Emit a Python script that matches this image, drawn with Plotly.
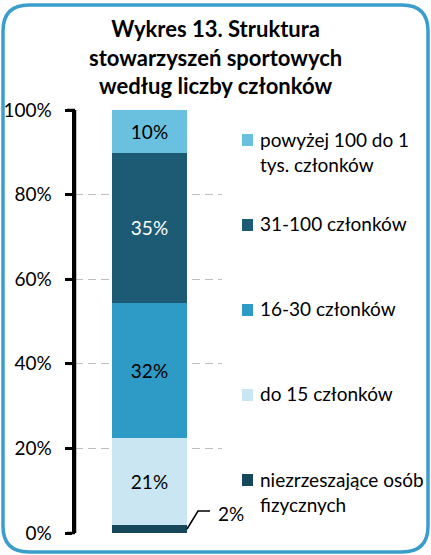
import plotly.graph_objects as go

# ---- data ----
series_names = ["niezrzeszające osób<br>fizycznych", "do 15 członków", "16-30 członków",
                "31-100 członków", "powyżej 100 do 1<br>tys. członków"]
series_values = [1.9, 20.5, 32.0, 35.5, 10.1]
series_labels = ["2%", "21%", "32%", "35%", "10%"]
series_colors = ["#16475A", "#C9E6F2", "#2E9BC6", "#1C5B73", "#6AC0DF"]
label_colors = ["black", "black", "black", "white", "black"]
tick_vals = [0, 20, 40, 60, 80, 100]
tick_text = ["0%", "20%", "40%", "60%", "80%", "100%"]
title_text = "<b>Wykres 13. Struktura<br>stowarzyszeń sportowych<br>według liczby członków</b>"

W, H = 431, 555
L, R, T, B = 75, 209, 110, 22
PW, PH = W - L - R, H - T - B
FONT = "Lato"
FS = 19
Y_RANGE = [0, 100]

def px(x):
    return (x - L) / PW

def py(y):
    return 1 - (y - T) / PH

fig = go.Figure()
for i, (n, v, c) in enumerate(zip(series_names, series_values, series_colors)):
    txt = series_labels[i] if i > 0 else ""
    fig.add_trace(go.Bar(
        x=[0], y=[v], name=n, marker=dict(color=c, line=dict(width=0)),
        width=1.02, text=[txt], textposition="inside", insidetextanchor="middle",
        textfont=dict(color=label_colors[i], size=FS, family=FONT),
        hoverinfo="skip", showlegend=False,
    ))

fig.update_layout(
    barmode="stack",
    width=W, height=H,
    margin=dict(l=L, r=R, t=T, b=B),
    paper_bgcolor="white", plot_bgcolor="white",
    font=dict(family=FONT, size=FS, color="black"),
    xaxis=dict(range=[-1.0136, 0.9864], visible=False, fixedrange=True),
    yaxis=dict(range=Y_RANGE, tickvals=tick_vals, automargin=False,
               ticktext=[t + "\u00a0\u00a0" for t in tick_text],
               showgrid=True, gridcolor="#BFBFBF", griddash="8px,5px", gridwidth=1.2,
               zeroline=False, showline=True, linecolor="black", linewidth=2.5,
               ticks="outside", ticklen=7, tickwidth=2.5, tickcolor="black",
               tickfont=dict(size=FS, family=FONT, color="black"), fixedrange=True),
    uniformtext=dict(mode="show", minsize=8),
)

# axis line and tick marks reinforced (paper refs so they are not clipped)
fig.add_shape(type="line", xref="paper", yref="paper", x0=0, x1=0, y0=0, y1=1,
              line=dict(color="black", width=2.5), layer="above")
for tv in tick_vals:
    fy = (tv - Y_RANGE[0]) / (Y_RANGE[1] - Y_RANGE[0])
    fig.add_shape(type="line", xref="paper", yref="paper", x0=px(67), x1=px(75), y0=fy, y1=fy,
                  line=dict(color="black", width=2.5), layer="above")

# title
fig.add_annotation(text=title_text, xref="paper", yref="paper", x=px(215), y=py(57),
                   xanchor="center", yanchor="middle", showarrow=False,
                   font=dict(size=22, family=FONT, color="black"), align="center")

# legend (custom, right side), top entry first: centre of first text line
legend_y = [140, 225, 310, 395, 480]
for name, col, yy in zip(reversed(series_names), reversed(series_colors), legend_y):
    two = "<br>" in name
    fig.add_shape(type="rect", xref="paper", yref="paper",
                  x0=px(242), x1=px(253), y0=py(yy - 6), y1=py(yy + 6),
                  fillcolor=col, line=dict(width=0))
    fig.add_annotation(text=name, xref="paper", yref="paper", x=px(258),
                       y=py(yy - 2), xanchor="left", yanchor="top" if two else "middle",
                       yshift=12 if two else 0, showarrow=False, align="left",
                       font=dict(size=FS, family=FONT, color="black"))

# 2% outside label with leader line
fig.add_shape(type="path", xref="paper", yref="paper",
              path=f"M {px(187)},{py(529)} L {px(198)},{py(511)} L {px(210)},{py(511)}",
              line=dict(color="black", width=1.5))
fig.add_annotation(text=series_labels[0], xref="paper", yref="paper", x=px(216), y=py(513),
                   xanchor="left", yanchor="middle", showarrow=False,
                   font=dict(size=FS, family=FONT, color="black"))

# rounded border
x0, x1, y0, y1, r = 3, 428, 5, 552, 26
pts = (f"M {px(x0+r)},{py(y0)} L {px(x1-r)},{py(y0)} Q {px(x1)},{py(y0)} {px(x1)},{py(y0+r)} "
       f"L {px(x1)},{py(y1-r)} Q {px(x1)},{py(y1)} {px(x1-r)},{py(y1)} "
       f"L {px(x0+r)},{py(y1)} Q {px(x0)},{py(y1)} {px(x0)},{py(y1-r)} "
       f"L {px(x0)},{py(y0+r)} Q {px(x0)},{py(y0)} {px(x0+r)},{py(y0)} Z")
fig.add_shape(type="path", xref="paper", yref="paper", path=pts,
              line=dict(color="#3A9ECC", width=3.5), layer="above")

fig.write_html("out.html", config={"displayModeBar": False},
               post_script="document.body.style.margin='0';document.body.style.overflow='hidden';")
